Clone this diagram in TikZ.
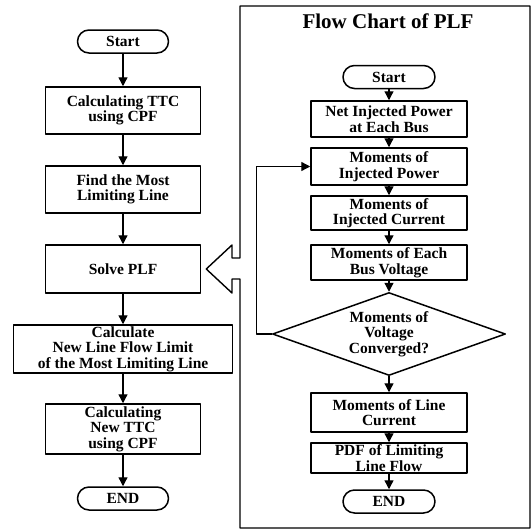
\documentclass[tikz,border=0pt]{standalone}
\usepackage{fontspec}
\setmainfont{Liberation Serif}
\usetikzlibrary{arrows.meta,shapes.geometric}

\begin{document}
\begin{tikzpicture}[x=1pt, y=-1pt, line join=round, >={Triangle[length=9pt,width=9pt]},
    font=\bfseries\fontsize{15.5}{15.5}\selectfont,
    box/.style={draw, line width=1.5pt, inner sep=0pt, align=center, minimum width=155pt},
    term/.style={box, rounded corners=11.5pt, minimum width=91pt, minimum height=23pt},
    dec/.style={draw, line width=1.5pt, diamond, aspect=2.8, inner sep=0pt, align=center, minimum width=233pt, minimum height=83pt},
    flow/.style={->, line width=1.3pt}]
    \useasboundingbox (0,0) rectangle (532,530);

    % main procedure
    \node[term] (start) at (123,41.5) {Start};
    \node[box, minimum height=47pt] (ttc) at (123,110.5) {Calculating TTC\\using CPF};
    \node[box, minimum height=47pt] (mll) at (123,189.5) {Find the Most\\Limiting Line};
    \node[box, minimum height=48pt] (plf) at (123,269) {Solve PLF};
    \node[box, minimum width=219pt, minimum height=48pt] (lim) at (123,349) {Calculate\\New Line Flow Limit\\of the Most Limiting Line};
    \node[box, minimum height=50pt] (newttc) at (123,429) {Calculating\\New TTC\\using CPF};
    \node[term] (stop) at (123,498.5) {END};

    % PLF chart
    \node (title) at (388,21) {\fontsize{21}{21}\selectfont Flow Chart of PLF};
    \node[term, minimum width=92pt] (pstart) at (389,77) {Start};
    \node[box, minimum width=156pt, minimum height=36pt] (net) at (389,119) {Net Injected Power\\at Each Bus};
    \node[box, minimum width=156pt, minimum height=37pt] (mip) at (389,166.5) {Moments of\\Injected Power};
    \node[box, minimum width=156pt, minimum height=34pt] (mic) at (389,213) {Moments of\\Injected Current};
    \node[box, minimum width=156pt, minimum height=35pt] (mbv) at (389,262.5) {Moments of Each\\Bus Voltage};
    \node[dec] (conv) at (389,334) {Moments of\\Voltage\\Converged?};
    \node[box, minimum width=156pt, minimum height=39pt] (mlc) at (389,412.5) {Moments of Line\\Current};
    \node[box, minimum width=156pt, minimum height=30pt] (pdf) at (389,458) {PDF of Limiting\\Line Flow};
    \node[term, minimum width=92pt] (pend) at (389,501.5) {END};

    \foreach \i/\j in {start/ttc, ttc/mll, mll/plf, plf/lim, lim/newttc, newttc/stop,
        pstart/net, net/mip, mip/mic, mic/mbv, mbv/conv, conv/mlc, mlc/pdf, pdf/pend}{
        \draw[flow] (\i) -- (\j);
    }
    \draw[flow] (conv.west) -- ++(-15,0) |- (mip.west);

    % frame with the hollow arrow into Solve PLF
    \path
    (240,258) coordinate (A)
    ++ (-8,0) coordinate (B)
    ++ (0,-13) coordinate (C)
    (plf.east) ++ (5,0) coordinate (T)
    (232,293) coordinate (D)
    ++ (0,-14) coordinate (E)
    ++ (8,0) coordinate (F)
    (240,528) coordinate (G)
    (530,528) coordinate (H)
    (530,6) coordinate (I)
    (240,6) coordinate (J)
    ;
    \draw[line width=1.4pt] (A)--(B)--(C)--(T)--(D)--(E)--(F)--(G)--(H)--(I)--(J)--cycle;
\end{tikzpicture}
\end{document}
